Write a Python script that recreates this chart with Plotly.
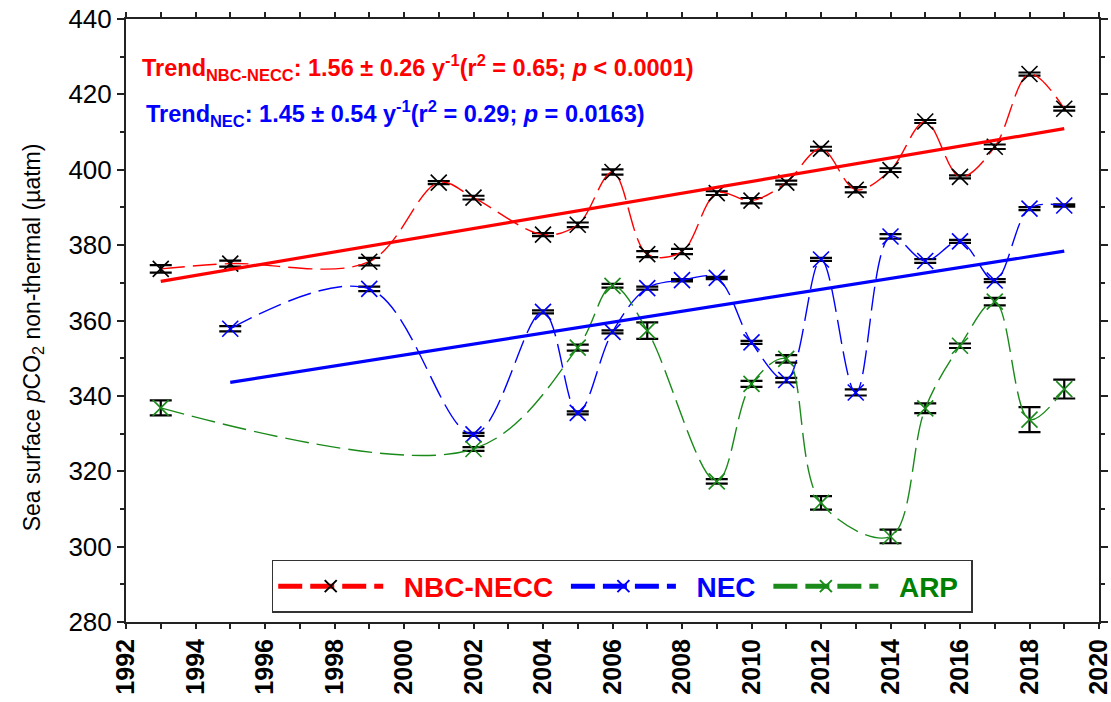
import plotly.graph_objects as go

# ---------------- data ----------------
nbc_years = [1993, 1995, 1999, 2001, 2002, 2004, 2005, 2006, 2007, 2008, 2009, 2010,
             2011, 2012, 2013, 2014, 2015, 2016, 2017, 2018, 2019]
nbc_vals = [373.7, 375.1, 375.6, 396.6, 392.6, 382.8, 385.4, 399.4, 377.6, 378.3, 393.8,
            391.8, 396.6, 405.6, 394.7, 399.9, 412.8, 398.1, 406.1, 425.4, 416.2]
nbc_err = [1.0, 0.8, 1.0, 0.4, 0.5, 0.4, 0.6, 0.7, 0.8, 0.7, 0.5, 0.7,
           0.5, 0.5, 0.7, 0.5, 0.4, 0.4, 0.6, 0.4, 0.5]

nec_years = [1995, 1999, 2002, 2004, 2005, 2006, 2007, 2008, 2009, 2010, 2011, 2012,
             2013, 2014, 2015, 2016, 2017, 2018, 2019]
nec_vals = [357.8, 368.4, 329.8, 362.3, 335.5, 357.0, 368.6, 370.7, 371.3, 354.2, 344.2,
            376.2, 340.9, 382.3, 375.8, 381.0, 370.6, 389.7, 390.5]
nec_err = [0.7, 0.6, 0.4, 0.4, 0.4, 0.4, 0.4, 0.3, 0.3, 0.4, 0.6, 0.4,
           0.8, 0.6, 0.5, 0.4, 0.4, 0.4, 0.3]

arp_years = [1993, 2002, 2005, 2006, 2007, 2009, 2010, 2011, 2012, 2014, 2015, 2016,
             2017, 2018, 2019]
arp_vals = [336.8, 325.9, 352.8, 369.2, 357.3, 317.3, 343.2, 349.8, 311.6, 302.7, 336.7,
            353.3, 365.0, 333.7, 341.8]
arp_err = [2.0, 0.5, 0.8, 0.5, 2.2, 0.6, 0.8, 1.0, 1.8, 1.8, 1.3, 0.6, 1.0, 3.3, 2.5]

# trend lines (end points)
nbc_trend_years = [1993, 2019]
nbc_trend_vals = [370.4, 410.9]
nec_trend_years = [1995, 2019]
nec_trend_vals = [343.6, 378.4]

x_tickvals = list(range(1992, 2021, 2))
y_tickvals = list(range(280, 441, 20))

RED = "#ff0000"
BLUE = "#0000ff"
GREEN = "#1a8a1a"
FONT = "Liberation Sans, Arial, sans-serif"
DASH = "24px,8px"

fig = go.Figure()

def add_series(years, vals, errs, line_color, marker_color, label, label_color):
    fig.add_trace(go.Scatter(
        x=years, y=vals, mode="lines+markers",
        name=f"&nbsp;&nbsp;<span style='color:{label_color}'>{label}</span>&nbsp;",
        line=dict(color=line_color, width=1.4, dash=DASH, shape="spline", smoothing=1.0),
        marker=dict(symbol="x-thin", size=16, color=marker_color,
                    line=dict(color=marker_color, width=1.6)),
        error_y=dict(type="data", array=errs, visible=True, color="black",
                     thickness=2.2, width=11),
    ))

add_series(nbc_years, nbc_vals, nbc_err, RED, "black", "NBC-NECC", RED)
add_series(nec_years, nec_vals, nec_err, BLUE, BLUE, "NEC", BLUE)
add_series(arp_years, arp_vals, arp_err, GREEN, GREEN, "ARP", "#008000")

fig.add_trace(go.Scatter(x=nbc_trend_years, y=nbc_trend_vals, mode="lines",
                         line=dict(color=RED, width=3.2), showlegend=False))
fig.add_trace(go.Scatter(x=nec_trend_years, y=nec_trend_vals, mode="lines",
                         line=dict(color=BLUE, width=3.2), showlegend=False))

fig.add_annotation(
    xref="paper", yref="paper", x=0.014, y=0.92, xanchor="left", yanchor="middle",
    showarrow=False,
    text="<b>Trend<sub>NBC-NECC</sub>: 1.56 ± 0.26 y<sup>-1</sup>(r<sup>2</sup> = 0.65; <i>p</i> &lt; 0.0001)</b>",
    font=dict(family=FONT, size=23.5, color=RED),
)
fig.add_annotation(
    xref="paper", yref="paper", x=0.019, y=0.844, xanchor="left", yanchor="middle",
    showarrow=False,
    text="<b>Trend<sub>NEC</sub>: 1.45 ± 0.54 y<sup>-1</sup>(r<sup>2</sup> = 0.29; <i>p</i> = 0.0163)</b>",
    font=dict(family=FONT, size=23.5, color=BLUE),
)
# y-axis title (placed as rotated text, slightly below plot centre like the reference)
fig.add_annotation(
    xref="paper", yref="paper", x=-0.0956, y=0.472, xanchor="center", yanchor="middle",
    showarrow=False, textangle=-90,
    text="Sea surface <i>p</i>CO<sub>2</sub> non-thermal (µatm)",
    font=dict(family=FONT, size=23, color="black"),
)

axis_common = dict(
    showline=True, linecolor="#222", linewidth=2, mirror="ticks",
    ticks="outside", tickcolor="#222", tickwidth=1.5,
    showgrid=False, zeroline=False, automargin=False,
    ticklabeloverflow="allow",
)

fig.update_layout(
    width=1111, height=702,
    margin=dict(l=126, r=12, t=19, b=80),
    paper_bgcolor="white", plot_bgcolor="white",
    font=dict(family=FONT, color="black"),
    xaxis=dict(
        range=[1992, 2020], tickvals=x_tickvals, ticklen=5, tickangle=-90,
        tickfont=dict(family=FONT, size=25, color="black", weight="bold"),
        minor=dict(dtick=1, ticklen=5, tickcolor="#222", ticks="outside", tickwidth=1.5),
        **axis_common,
    ),
    yaxis=dict(
        range=[280, 440], tickvals=y_tickvals, ticklen=7,
        tickfont=dict(family=FONT, size=26, color="black"),
        minor=dict(dtick=10, ticklen=4, tickcolor="#222", ticks="outside", tickwidth=1.5),
        **axis_common,
    ),
    legend=dict(
        orientation="h", x=0.51, y=0.015, xanchor="center", yanchor="bottom",
        bgcolor="white", bordercolor="#333", borderwidth=1.5,
        font=dict(family=FONT, size=28, weight="bold"),
        itemwidth=105, itemsizing="constant",
    ),
)

fig.write_html("out.html")
